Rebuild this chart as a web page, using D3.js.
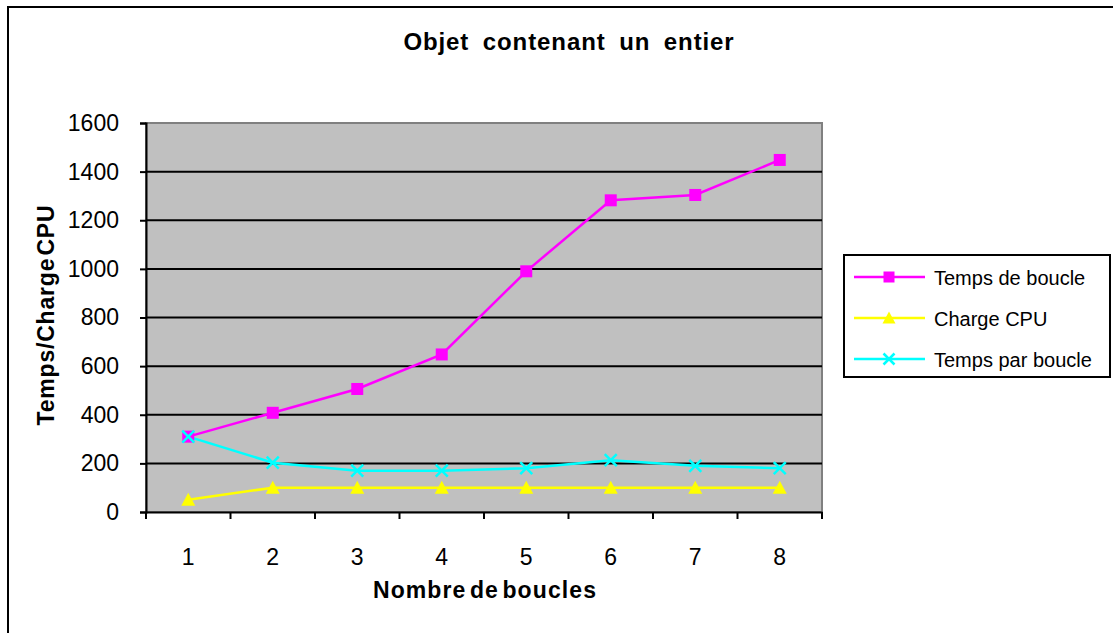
<!DOCTYPE html>
<html>
<head>
<meta charset="utf-8">
<script src="https://cdn.jsdelivr.net/npm/d3@7"></script>
<style>
  html, body { margin: 0; padding: 0; background: #fff; }
  svg { display: block; font-family: "Liberation Sans", Arial, sans-serif; }
</style>
</head>
<body>
<svg id="chart" width="1113" height="633"></svg>
<script>
// Data
const categories = [1, 2, 3, 4, 5, 6, 7, 8];
const tempsDeBoucle = [310, 408, 506, 648, 990, 1282, 1304, 1448];
const chargeCPU = [50, 100, 100, 100, 100, 100, 100, 100];
const tempsParBoucle = [310, 203, 170, 170, 180, 213, 190, 180];
const yTicks = [0, 200, 400, 600, 800, 1000, 1200, 1400, 1600];
const seriesNames = ["Temps de boucle", "Charge CPU", "Temps par boucle"];

const series = [
  { name: seriesNames[0], values: tempsDeBoucle, color: "#ff00ff", marker: "square" },
  { name: seriesNames[1], values: chargeCPU, color: "#ffff00", marker: "triangle" },
  { name: seriesNames[2], values: tempsParBoucle, color: "#00ffff", marker: "cross" }
];

const svg = d3.select("#chart");
const FONT = "Liberation Sans, Arial, sans-serif";

// Outer chart border
svg.append("rect")
  .attr("x", 8).attr("y", 7).attr("width", 1120).attr("height", 640)
  .attr("fill", "#fff").attr("stroke", "#000").attr("stroke-width", 2);

const plot = { left: 146, top: 123, right: 822, bottom: 512 };

const x = d3.scaleBand().domain(categories).range([plot.left, plot.right]).padding(0);
const y = d3.scaleLinear().domain([0, 1600]).range([plot.bottom, plot.top]);
const cx = d => x(d) + x.bandwidth() / 2;

// Plot background
svg.append("rect")
  .attr("x", plot.left).attr("y", plot.top)
  .attr("width", plot.right - plot.left).attr("height", plot.bottom - plot.top)
  .attr("fill", "#c0c0c0").attr("stroke", "#808080").attr("stroke-width", 2);

// Horizontal gridlines
svg.append("g").selectAll("line")
  .data(yTicks.filter(t => t > 0 && t < 1600))
  .join("line")
  .attr("x1", plot.left).attr("x2", plot.right)
  .attr("y1", d => y(d)).attr("y2", d => y(d))
  .attr("stroke", "#000").attr("stroke-width", 2);

// Y axis
const yAxis = svg.append("g")
  .attr("transform", `translate(${plot.left},0)`)
  .call(d3.axisLeft(y).tickValues(yTicks).tickSize(6).tickPadding(21).tickFormat(d3.format("d")));
yAxis.select(".domain").attr("stroke", "#000").attr("stroke-width", 2);
yAxis.selectAll(".tick line").attr("stroke", "#000").attr("stroke-width", 2);
yAxis.selectAll(".tick text")
  .attr("font-size", 23).attr("fill", "#000").attr("font-family", FONT);

// X axis
const xAxis = svg.append("g")
  .attr("transform", `translate(0,${plot.bottom})`)
  .call(d3.axisBottom(x).tickSize(0).tickPadding(37));
xAxis.select(".domain").attr("stroke", "#000").attr("stroke-width", 2);
xAxis.selectAll(".tick text")
  .attr("font-size", 23).attr("fill", "#000").attr("font-family", FONT);
// Tick marks between categories
const boundaries = d3.range(categories.length + 1).map(i => plot.left + i * x.bandwidth());
xAxis.append("g").selectAll("line")
  .data(boundaries)
  .join("line")
  .attr("x1", d => d).attr("x2", d => d)
  .attr("y1", 0).attr("y2", 7)
  .attr("stroke", "#000").attr("stroke-width", 2);

// Marker drawing
function drawMarker(g, type, color, px, py, s) {
  if (type === "square") {
    g.append("rect")
      .attr("x", px - s).attr("y", py - s).attr("width", 2 * s).attr("height", 2 * s)
      .attr("fill", color);
  } else if (type === "triangle") {
    g.append("path")
      .attr("d", `M${px},${py - s - 1}L${px + s + 1},${py + s}L${px - s - 1},${py + s}Z`)
      .attr("fill", color);
  } else {
    g.append("path")
      .attr("d", `M${px - s},${py - s}L${px + s},${py + s}M${px - s},${py + s}L${px + s},${py - s}`)
      .attr("stroke", color).attr("stroke-width", 2.5).attr("fill", "none");
  }
}

const line = d3.line().x((d, i) => cx(categories[i])).y(d => y(d));

series.forEach(s => {
  svg.append("path")
    .datum(s.values)
    .attr("d", line)
    .attr("fill", "none")
    .attr("stroke", s.color)
    .attr("stroke-width", 2.5);
});
series.forEach(s => {
  const g = svg.append("g");
  s.values.forEach((v, i) => drawMarker(g, s.marker, s.color, cx(categories[i]), y(v), 6));
});

// Title
svg.append("text")
  .attr("x", 569).attr("y", 50)
  .attr("text-anchor", "middle")
  .attr("font-size", 24).attr("font-weight", "bold")
  .attr("letter-spacing", 0.9).attr("word-spacing", 6)
  .text("Objet contenant un entier");

// Axis titles
svg.append("text")
  .attr("transform", "translate(54,315) rotate(-90)")
  .attr("text-anchor", "middle")
  .attr("font-size", 23).attr("font-weight", "bold")
  .attr("letter-spacing", 0.8).attr("word-spacing", -5)
  .text("Temps/Charge CPU");

svg.append("text")
  .attr("x", 485).attr("y", 598)
  .attr("text-anchor", "middle")
  .attr("font-size", 23).attr("font-weight", "bold")
  .attr("letter-spacing", 1.1).attr("word-spacing", -4)
  .text("Nombre de boucles");

// Legend
const legend = svg.append("g");
legend.append("rect")
  .attr("x", 844).attr("y", 255).attr("width", 266).attr("height", 122)
  .attr("fill", "#fff").attr("stroke", "#000").attr("stroke-width", 2);
series.forEach((s, i) => {
  const ly = 277 + i * 41;
  legend.append("line")
    .attr("x1", 854).attr("x2", 925).attr("y1", ly).attr("y2", ly)
    .attr("stroke", s.color).attr("stroke-width", 2.5);
  drawMarker(legend, s.marker, s.color, 889, ly, 5.5);
  legend.append("text")
    .attr("x", 934).attr("y", ly + 8)
    .attr("font-size", 20)
    .text(s.name);
});
</script>
</body>
</html>
